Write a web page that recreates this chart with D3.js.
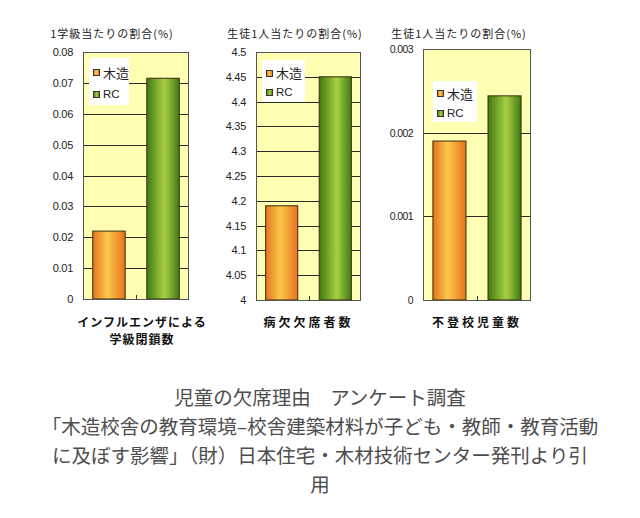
<!DOCTYPE html>
<html>
<head>
<meta charset="utf-8">
<script src="https://cdn.jsdelivr.net/npm/d3@7"></script>
<style>
  body { margin: 0; background: #fff; }
  svg { display: block; }
</style>
</head>
<body>
<div id="chart-area"></div>
<script>
// data
var series = ['木造', 'RC'];
var panelTitles = ['1学級当たりの割合(%)', '生徒1人当たりの割合(%)', '生徒1人当たりの割合(%)'];
var categoryLines = [['インフルエンザによる', '学級閉鎖数'], ['病欠欠席者数'], ['不登校児童数']];
var woodValues = [0.022, 4.19, 0.0019];
var rcValues = [0.0715, 4.45, 0.00244];
var tickValues = [
    [0, 0.01, 0.02, 0.03, 0.04, 0.05, 0.06, 0.07, 0.08],
    [4, 4.05, 4.1, 4.15, 4.2, 4.25, 4.3, 4.35, 4.4, 4.45, 4.5],
    [0, 0.001, 0.002, 0.003]
];
var tickLabels = [
    ['0', '0.01', '0.02', '0.03', '0.04', '0.05', '0.06', '0.07', '0.08'],
    ['4', '4.05', '4.1', '4.15', '4.2', '4.25', '4.3', '4.35', '4.4', '4.45', '4.5'],
    ['0', '0.001', '0.002', '0.003']
];
var captionLines = [
    '児童の欠席理由　アンケート調査',
    '「木造校舎の教育環境–校舎建築材料が子ども・教師・教育活動',
    'に及ぼす影響」（財）日本住宅・木材技術センター発刊より引',
    '用'
];

// layout of each panel (plot box in px)
var boxes = [
    { left: 83, right: 189, top: 52, bottom: 299, titleX: 112, legend: [89, 58, 40, 47] },
    { left: 256, right: 361, top: 52, bottom: 300, titleX: 295, legend: [262, 60, 43, 42] },
    { left: 423, right: 531, top: 49, bottom: 300, titleX: 459, legend: [433, 81, 44, 41] }
];

var svg = d3.select('#chart-area')
    .append('svg')
        .attr('width', 640)
        .attr('height', 518);

var defs = svg.append('defs');
function addGradient(id, edge, mid, midPos) {
    var grad = defs.append('linearGradient')
        .attr('id', id)
        .attr('x1', '0%').attr('x2', '100%')
        .attr('y1', '0%').attr('y2', '0%');
    grad.append('stop').attr('offset', '0%').attr('stop-color', edge);
    grad.append('stop').attr('offset', midPos).attr('stop-color', mid);
    grad.append('stop').attr('offset', '100%').attr('stop-color', edge);
}
addGradient('woodGrad', '#e8731f', '#f9c94a', '45%');
addGradient('rcGrad', '#3f7a12', '#a9d043', '55%');
var fills = ['url(#woodGrad)', 'url(#rcGrad)'];

boxes.forEach(function (b, i) {
    var g = svg.append('g').attr('class', 'panel');
    var values = [woodValues[i], rcValues[i]];
    var ticks = tickValues[i];

    var y = d3.scaleLinear()
        .domain([ticks[0], ticks[ticks.length - 1]])
        .range([b.bottom, b.top]);

    var x = d3.scaleBand()
        .domain(series)
        .range([b.left, b.right])
        .paddingInner(0.4)
        .paddingOuter(0.18);

    // plot background
    g.append('rect')
        .attr('x', b.left)
        .attr('y', b.top)
        .attr('width', b.right - b.left)
        .attr('height', b.bottom - b.top)
        .attr('fill', '#ffffb4');

    // grid lines
    g.selectAll('line.grid').data(ticks)
        .enter()
        .append('line')
        .attr('class', 'grid')
        .attr('x1', b.left)
        .attr('x2', b.right)
        .attr('y1', function (d) { return Math.round(y(d)) + 0.5 })
        .attr('y2', function (d) { return Math.round(y(d)) + 0.5 })
        .attr('stroke', '#2a2a2a')
        .attr('stroke-width', 1);

    // y axis labels
    var yAxis = d3.axisLeft(y)
        .tickValues(ticks)
        .tickSize(0)
        .tickPadding(0)
        .tickFormat(function (d, k) { return tickLabels[i][k] });
    var ax = g.append('g')
        .attr('class', 'left axis')
        .attr('transform', 'translate(' + (b.left - 10) + ',0)')
        .call(yAxis);
    ax.select('.domain').remove();
    ax.selectAll('text')
        .attr('font-family', 'Liberation Sans, Arial, sans-serif')
        .attr('font-size', i === 2 ? '10.5px' : '11px')
        .attr('letter-spacing', i === 2 ? '-0.6px' : '-0.3px')
        .attr('fill', '#222');

    // bars
    g.selectAll('rect.bar').data(values)
        .enter()
        .append('rect')
        .attr('class', 'bar')
        .attr('x', function (d, k) { return x(series[k]) })
        .attr('y', function (d) { return y(d) })
        .attr('width', x.bandwidth())
        .attr('height', function (d) { return b.bottom - y(d) })
        .attr('fill', function (d, k) { return fills[k] })
        .attr('stroke', '#3a2a10')
        .attr('stroke-width', 1);

    // plot border
    g.append('rect')
        .attr('x', b.left + 0.5)
        .attr('y', b.top + 0.5)
        .attr('width', b.right - b.left - 1)
        .attr('height', b.bottom - b.top)
        .attr('fill', 'none')
        .attr('stroke', '#555')
        .attr('stroke-width', 1);

    // small category tick at the centre of the base
    var mid = Math.round((b.left + b.right) / 2) + 0.5;
    g.append('line')
        .attr('x1', mid).attr('x2', mid)
        .attr('y1', b.bottom).attr('y2', b.bottom - 4)
        .attr('stroke', '#333');

    // legend
    var lg = g.append('g')
        .attr('transform', 'translate(' + b.legend[0] + ',' + b.legend[1] + ')');
    var lh = b.legend[3];
    lg.append('rect')
        .attr('width', b.legend[2])
        .attr('height', lh)
        .attr('fill', '#fff');
    series.forEach(function (s, k) {
        var cy = lh * (0.3 + k * 0.47);
        lg.append('rect')
            .attr('x', 4.5)
            .attr('y', Math.round(cy - 3) + 0.5)
            .attr('width', 6)
            .attr('height', 6)
            .attr('fill', fills[k])
            .attr('stroke', '#333');
        lg.append('text')
            .attr('x', 14)
            .attr('y', cy)
            .attr('dominant-baseline', 'central')
            .attr('font-family', k === 0 ? 'Noto Sans CJK JP' : 'Liberation Sans, Arial, sans-serif')
            .attr('font-size', k === 0 ? '13px' : '11.5px')
            .attr('fill', '#222')
            .text(s);
    });

    // panel title
    g.append('text')
        .attr('x', b.titleX)
        .attr('y', 33)
        .attr('text-anchor', 'middle')
        .attr('dominant-baseline', 'central')
        .attr('font-family', 'Noto Sans CJK JP')
        .attr('font-size', '11px')
        .attr('letter-spacing', '1px')
        .attr('fill', '#222')
        .text(panelTitles[i]);

    // category label
    var cx = i === 0 ? 142 : (b.left + b.right) / 2;
    categoryLines[i].forEach(function (line, k) {
        g.append('text')
            .attr('x', cx)
            .attr('y', 321 + k * 17.5)
            .attr('text-anchor', 'middle')
            .attr('dominant-baseline', 'central')
            .attr('font-family', 'Noto Sans CJK JP')
            .attr('font-weight', 'bold')
            .attr('font-size', '12px')
            .attr('letter-spacing', i === 0 ? '1px' : '3px')
            .attr('fill', '#111')
            .text(line);
    });
});

// caption
svg.selectAll('text.caption').data(captionLines)
    .enter()
    .append('text')
    .attr('class', 'caption')
    .attr('x', 320)
    .attr('y', function (d, k) { return 396 + k * 29.3 })
    .attr('text-anchor', 'middle')
    .attr('dominant-baseline', 'central')
    .attr('font-family', 'Noto Sans CJK JP')
    .attr('font-size', '19.5px')
    .attr('fill', '#4d4d4d')
    .text(function (d) { return d });
</script>
</body>
</html>
